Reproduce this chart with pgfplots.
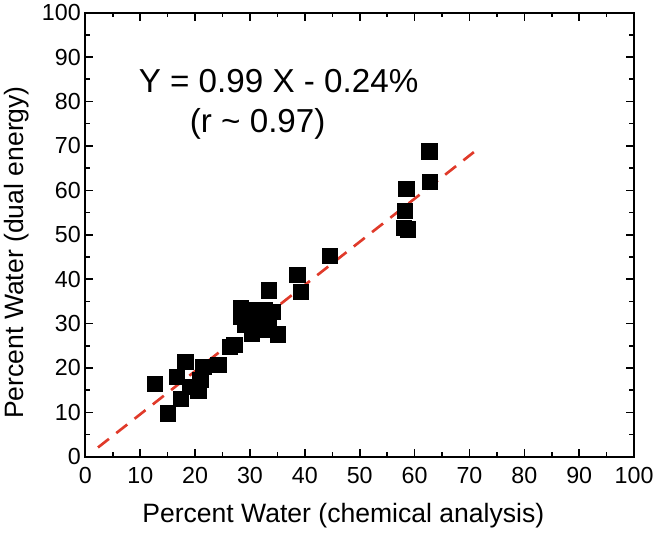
\documentclass[border=0pt]{standalone}
\usepackage{fontspec}
\setmainfont{Liberation Sans}
\usepackage{pgfplots}
\pgfplotsset{compat=1.18}
\definecolor{fitred}{HTML}{E03A2A}
\begin{document}
\begin{tikzpicture}
\begin{axis}[
  scale only axis,
  width=413.25pt, height=334.5pt,
  xmin=0, xmax=100, ymin=0, ymax=100,
  xtick={0,10,...,100}, ytick={0,10,...,100},
  minor x tick num=1, minor y tick num=1,
  tick align=inside,
  major tick length=6pt, minor tick length=3.5pt,
  tick style={line width=1.2pt, black},
  axis line style={line width=1.6pt},
  /pgf/number format/assume math mode=true,
  ticklabel style={font=\fontsize{17.5}{20}\selectfont},
  xticklabel style={yshift=-4.5pt},
  xlabel={Percent Water (chemical analysis)},
  ylabel={Percent Water (dual energy)},
  label style={font=\fontsize{20}{23}\selectfont},
  xlabel style={at={(rel axis cs:0.47,-0.133)}, anchor=center},
  ylabel style={at={(rel axis cs:-0.125,0.46)}, anchor=center},
  clip=false,
]
\path (rel axis cs:-0.1506,-0.1749) rectangle (rel axis cs:1.0436,1.0247);
\addplot[fitred, line width=2pt, dash pattern=on 10.5pt off 7pt] coordinates {(2.3,2.1) (70.8,68.6)};
\addplot[only marks, mark=square*, mark size=5.8pt, black] coordinates {
(12.6,16.5) (15.0,9.8) (16.7,18.0) (18.2,21.4) (17.4,13.1) (19.1,15.8)
(20.6,15.0) (21.5,20.3) (20.9,17.3) (24.2,20.7) (26.3,24.8)
(27.1,25.2) (28.3,33.6) (29.7,33.1) (28.4,31.6) (29.1,29.7) (30.3,27.8)
(32.7,33.1) (34.2,32.7) (33.3,30.5) (32.7,28.6) (35.1,27.6) (31.5,31.6)
(33.4,37.5) (38.6,41.0) (39.3,37.1) (44.5,45.2)
(58.0,51.5) (58.7,51.2) (58.2,55.4) (58.5,60.4) (62.8,61.9) (62.7,68.8)
};
\node[font=\fontsize{25}{28}\selectfont] at (axis cs:35.2,84.6) {Y = 0.99 X - 0.24\%};
\node[font=\fontsize{25}{28}\selectfont] at (axis cs:31.4,75.0) {(r \textasciitilde{} 0.97)};
\end{axis}
\end{tikzpicture}
\end{document}
